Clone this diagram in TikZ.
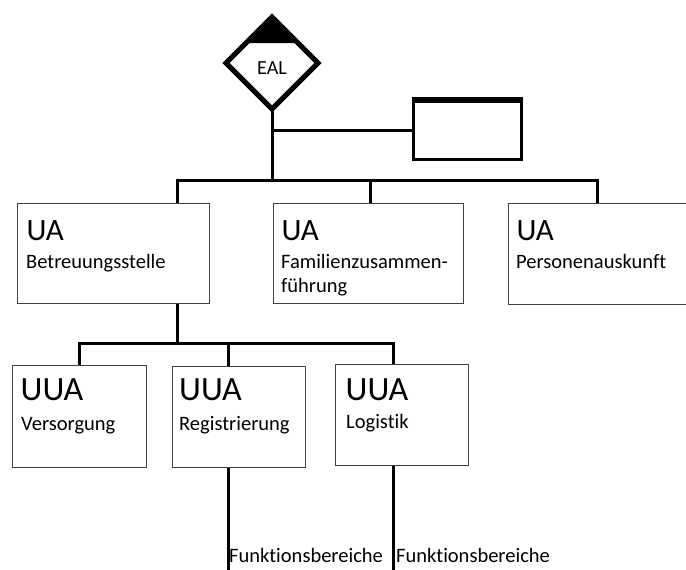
\documentclass[tikz,border=0pt]{standalone}
\usepackage{fontspec}
\setmainfont{Carlito}[Ligatures={NoCommon}]
\begin{document}
\begin{tikzpicture}[x=1pt,y=-1pt,
  conn/.style={line width=3pt},
  box/.style={draw=black!75,line width=1.3pt,anchor=north west,inner sep=0pt},
  big/.style={anchor=base west,inner sep=0pt,font=\fontsize{31}{34}\selectfont},
  bigu/.style={anchor=base west,inner sep=0pt,font=\fontsize{34}{37}\selectfont},
  small/.style={anchor=base west,inner sep=0pt,font=\fontsize{20.5}{24}\selectfont},
]
\useasboundingbox (0,0) rectangle (686,570);

% EAL diamond
\fill (272,17) -- (246,43) -- (298,43) -- cycle;
\draw[line width=5pt,line join=miter] (272,17) -- (318,63) -- (272,109) -- (226,63) -- cycle;
\node[inner sep=0pt,font=\fontsize{20}{24}\selectfont] (eal) at (272,68) {EAL};
\coordinate (ealb) at (272,111);

% side box
\node[box,draw=black,line width=3pt,minimum width=108pt,minimum height=58pt] (side) at (412,100) {};
\draw[line width=6pt] (side.north west) -- (side.north east);

% UA boxes
\node[box,minimum width=192pt,minimum height=100pt] (b1) at (17,203) {};
\node[box,minimum width=190pt,minimum height=100pt] (b2) at (273,203) {};
\node[box,minimum width=180pt,minimum height=101pt] (b3) at (508,203) {};

\node[big] (t1a) at (26.5,240) {UA};
\node[small] (t1b) at (26,268) {Betreuungsstelle};
\node[big] (t2a) at (281.5,240) {UA};
\node[small] (t2b) at (281,268) {Familienzusammen-};
\node[small] (t2c) at (281,292) {führung};
\node[big] (t3a) at (516.5,240) {UA};
\node[small] (t3b) at (516,268) {Personenauskunft};

% UUA boxes
\node[box,minimum width=134pt,minimum height=102pt] (c1) at (12,365) {};
\node[box,minimum width=133pt,minimum height=101pt] (c2) at (172,366) {};
\node[box,minimum width=133pt,minimum height=101pt] (c3) at (335,364) {};

\node[bigu] (u1a) at (20.5,400) {UUA};
\node[small] (u1b) at (21,430) {Versorgung};
\node[bigu] (u2a) at (179,400) {UUA};
\node[small] (u2b) at (179,430) {Registrierung};
\node[bigu] (u3a) at (345.5,400) {UUA};
\node[small] (u3b) at (346,428) {Logistik};

\node[small] (f1) at (229,562) {Funktionsbereiche};
\node[small] (f2) at (396,562) {Funktionsbereiche};

% connectors
\coordinate (busL) at (177,180);
\coordinate (busR) at (597,180);
\coordinate (busM) at (370,180);
\coordinate (bus2L) at (79,343);
\coordinate (bus2R) at (393,343);
\coordinate (e2) at (228,570);
\coordinate (e3) at (393,570);

\draw[conn] (ealb) -- (ealb |- busL);
\draw[conn] (side.west) -- (side.west -| ealb);
\draw[conn] (busL |- b1.north) -- (busL) -- (busR) -- (busR |- b3.north);
\draw[conn] (busM |- b2.north) -- (busM);
\draw[conn] (busL |- b1.south) -- (busL |- bus2L);
\draw[conn] (bus2L |- c1.north) -- (bus2L) -- (bus2R) -- (bus2R |- c3.north);
\draw[conn] (e2 |- c2.north) -- (e2 |- bus2L);
\draw[conn] (e2 |- c2.south) -- (e2);
\draw[conn] (e3 |- c3.south) -- (e3);
\end{tikzpicture}
\end{document}
